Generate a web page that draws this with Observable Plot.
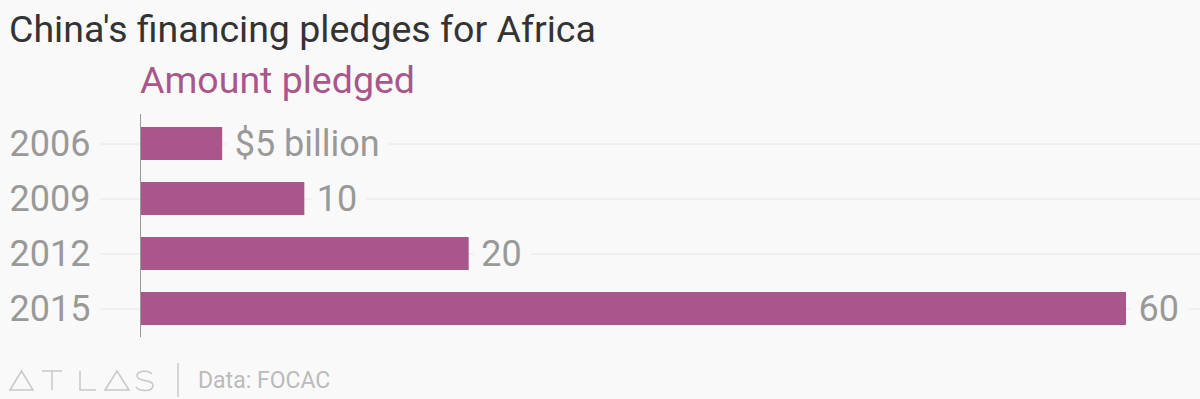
<!DOCTYPE html>
<html>
<head>
<meta charset="utf-8">
<script src="https://cdn.jsdelivr.net/npm/d3@7"></script>
<script src="https://cdn.jsdelivr.net/npm/@observablehq/plot@0.6"></script>
<style>
  html, body { margin: 0; padding: 0; background: #f9f9f9; width: 1200px; height: 399px; overflow: hidden; font-family: Roboto, "Noto Sans", sans-serif; }
  #wrap { position: relative; width: 1200px; height: 399px; }
  .title { position: absolute; left: 9px; top: 11px; font-size: 37.5px; line-height: 1; color: #333; white-space: nowrap; }
  .subtitle { position: absolute; left: 140px; top: 62px; font-size: 37.5px; line-height: 1; color: #a9578a; white-space: nowrap; }
  #chart { position: absolute; left: 0; top: 100px; }
  .source { position: absolute; left: 198px; top: 369px; font-size: 23px; line-height: 1; color: #bbb; white-space: nowrap; }
  #logo { position: absolute; left: 0; top: 355px; }
</style>
</head>
<body>
<div id="wrap">
  <div class="title">China's financing pledges for Africa</div>
  <div class="subtitle">Amount pledged</div>
  <div id="chart"></div>
  <svg id="logo" width="190" height="44">
    <g fill="none" stroke="#c8c8c8" stroke-width="1.5">
      <path d="M10 35 L21.5 16 L33 35 Z"/>
      <path d="M42 16 H62 M52 16 V35"/>
      <path d="M80 16 V35 H96"/>
      <path d="M105 35 L117 16 L129 35 Z"/>
      <path d="M152 19 C149 15 137 15 137 21 C137 27 153 24 153 30 C153 37 140 37 136 32"/>
      <path d="M178 8 V42"/>
    </g>
  </svg>
  <div class="source">Data: FOCAC</div>
</div>
<script>
const years = ["2006", "2009", "2012", "2015"];
const amounts = [5, 10, 20, 60];
const valueLabels = ["$5 billion", "10", "20", "60"];

const data = years.map((y, i) => ({year: y, value: amounts[i], label: valueLabels[i]}));
const bg = "#f9f9f9";

const plot = Plot.plot({
  width: 1200,
  height: 245,
  marginTop: 14,
  marginBottom: 8,
  marginLeft: 100,
  marginRight: 0,
  style: {background: "transparent", fontFamily: "Roboto, 'Noto Sans', sans-serif"},
  x: {domain: [0, 60], range: [140, 1126], axis: null},
  y: {domain: years, paddingInner: 0.4, paddingOuter: 0.2, label: null},
  marks: [
    Plot.ruleY(years, {y: d => d, stroke: "#e6e6e6", strokeWidth: 1}),
    Plot.barX(data, {x: "value", y: "year", fill: "#a9578a"}),
    Plot.text(data, {x: "value", y: "year", text: "label", dx: 12, textAnchor: "start", fill: "#999", stroke: bg, strokeWidth: 22, fontSize: 36}),
    Plot.ruleX([0], {stroke: "#999", strokeWidth: 1}),
    Plot.axisY({tickSize: 0, tickPadding: 10, fontSize: 36, color: "#999", label: null})
  ]
});
document.getElementById("chart").appendChild(plot);
</script>
</body>
</html>
